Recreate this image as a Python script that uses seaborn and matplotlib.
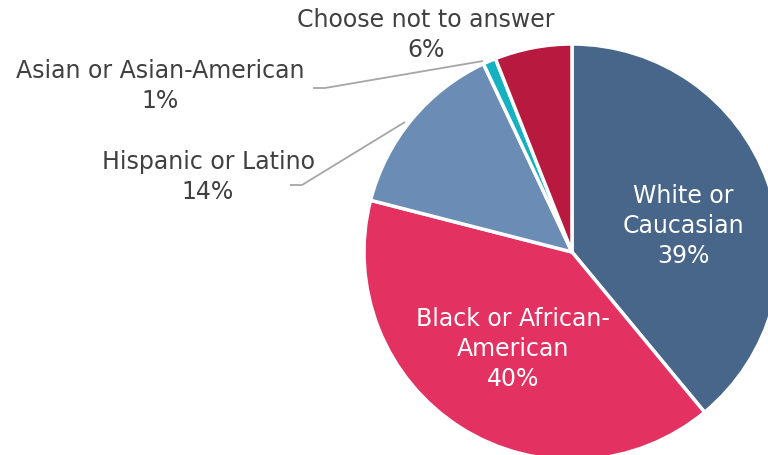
import matplotlib
matplotlib.use("Agg")
import matplotlib.pyplot as plt
import seaborn as sns
import numpy as np

categories = ["White or\nCaucasian", "Black or African-\nAmerican", "Hispanic or Latino",
              "Asian or Asian-American", "Choose not to answer"]
values = [39, 40, 14, 1, 6]
colors = ["#48658A", "#E33162", "#6B8DB5", "#14B2C0", "#B8193F"]

sns.set_theme(style="white")
plt.rcParams["font.family"] = ["DejaVu Sans"]

W, H = 768, 455
fig = plt.figure(figsize=(W / 100, H / 100), dpi=100)
ax = fig.add_axes([0, 0, 1, 1])

cx, cy, r = 572, H - 252, 208
wedges, _ = ax.pie(values, colors=colors, startangle=90, counterclock=False,
                   center=(cx, cy), radius=r, frame=True,
                   wedgeprops=dict(edgecolor="white", linewidth=2.5))
ax.set_xlim(0, W)
ax.set_ylim(0, H)
ax.set_aspect("equal")
ax.axis("off")

labels = [f"{c}\n{v}%" for c, v in zip(categories, values)]
text_dark = "#404040"
fs = 17
ls = 1.3

# inside labels
ax.text(683, H - 226, labels[0], color="white", fontsize=fs, ha="center", va="center",
        linespacing=ls)
ax.text(513, H - 349, labels[1], color="white", fontsize=fs, ha="center", va="center",
        linespacing=ls)

# outside labels
ax.text(208, H - 177, labels[2], color=text_dark, fontsize=fs, ha="center", va="center",
        linespacing=ls)
ax.text(160, H - 86, labels[3], color=text_dark, fontsize=fs, ha="center", va="center",
        linespacing=ls)
ax.text(426, H - 35, labels[4], color=text_dark, fontsize=fs, ha="center", va="center",
        linespacing=ls)

# leader lines
line_kw = dict(color="#A6A6A6", linewidth=1.3, solid_capstyle="butt")
ax.plot([290, 302, 405], [H - 185, H - 185, H - 122], **line_kw)
ax.plot([313, 325, 483], [H - 88, H - 88, H - 61], **line_kw)

fig.savefig("out.png", dpi=100)
